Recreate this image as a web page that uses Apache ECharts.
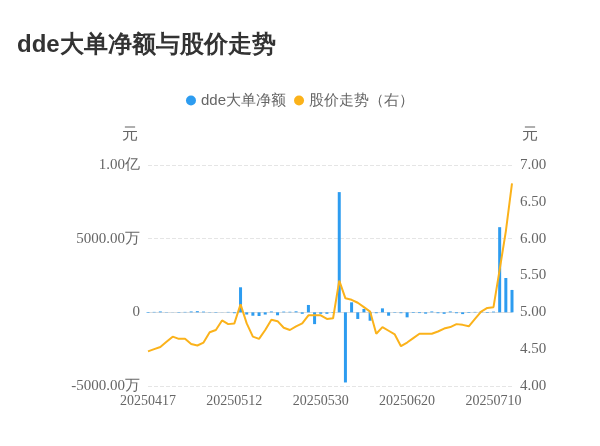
<!DOCTYPE html><html><head><meta charset="utf-8"><script src="https://cdn.jsdelivr.net/npm/echarts@6/dist/echarts.min.js"></script></head><body style="margin:0"><div id="c" style="width:600px;height:446px"></div><script>
const dates=["20250417","20250418","20250421","20250422","20250423","20250424","20250425","20250428","20250429","20250430","20250506","20250507","20250508","20250509","20250512","20250513","20250514","20250515","20250516","20250519","20250520","20250521","20250522","20250523","20250526","20250527","20250528","20250529","20250530","20250603","20250604","20250605","20250606","20250609","20250610","20250611","20250612","20250613","20250616","20250617","20250618","20250619","20250620","20250623","20250624","20250625","20250626","20250627","20250630","20250701","20250702","20250703","20250704","20250707","20250708","20250709","20250710","20250711","20250714","20250715"];
const dde=[-40,30,60,-20,-10,-30,30,60,80,50,-20,-30,-10,30,-60,1700,-150,-230,-250,-150,60,-200,50,40,70,-100,500,-800,-100,-100,-40,8160,-4760,680,-450,230,-570,-60,270,-230,-30,-60,-340,-40,-50,-90,60,-60,-100,60,-60,-120,-40,30,80,-40,50,5780,2330,1520];
const price=[4.47,4.50,4.53,4.60,4.67,4.64,4.64,4.57,4.55,4.59,4.73,4.76,4.89,4.84,4.85,5.11,4.85,4.67,4.64,4.76,4.90,4.88,4.79,4.76,4.81,4.85,4.96,4.96,4.96,4.91,4.92,5.43,5.19,5.17,5.13,5.07,5.01,4.71,4.80,4.75,4.70,4.54,4.59,4.65,4.71,4.71,4.71,4.74,4.78,4.80,4.84,4.83,4.81,4.91,5.01,5.06,5.07,5.58,6.10,6.75];
const c=echarts.init(document.getElementById('c'));
const ax={color:'#666',fontSize:15,fontFamily:'Liberation Serif'};
c.setOption({
title:{text:'dde大单净额与股价走势',left:12,top:28,textStyle:{fontSize:24,fontWeight:'bold',color:'#333'}},
legend:{top:88,left:'center',itemWidth:10,itemHeight:10,textStyle:{fontSize:15,color:'#666'},data:[{name:'dde大单净额',icon:'circle'},{name:'股价走势（右）',icon:'circle'}]},
grid:{left:148,right:88,top:165,bottom:60},
xAxis:{type:'category',data:dates,boundaryGap:false,axisTick:{show:false},axisLine:{lineStyle:{color:'#ddd'}},axisLabel:{color:'#666',fontSize:14,interval:13,fontFamily:'Liberation Serif'}},
yAxis:[{type:'value',min:-5000,max:10000,interval:5000,name:'元',nameLocation:'end',nameGap:22,nameTextStyle:{fontSize:16,color:'#666',align:'right',padding:[0,10,0,0]},
axisLabel:Object.assign({formatter:v=>v===0?'0':v===10000?'1.00亿':v.toFixed(2)+'万'},ax),splitLine:{lineStyle:{type:'dashed',color:'#e5e5e5'}}},
{type:'value',min:4,max:7,interval:0.5,name:'元',nameGap:22,nameTextStyle:{fontSize:16,color:'#666',align:'left',padding:[0,0,0,10]},axisLabel:Object.assign({formatter:v=>v.toFixed(2)},ax),splitLine:{show:false}}],
series:[{name:'dde大单净额',type:'bar',data:dde,barWidth:3,itemStyle:{color:'#2d9cf0'}},
{name:'股价走势（右）',type:'line',yAxisIndex:1,data:price,symbol:'none',lineStyle:{color:'#fbb21a',width:2},itemStyle:{color:'#fbb21a'}}]
});
</script></body></html>
